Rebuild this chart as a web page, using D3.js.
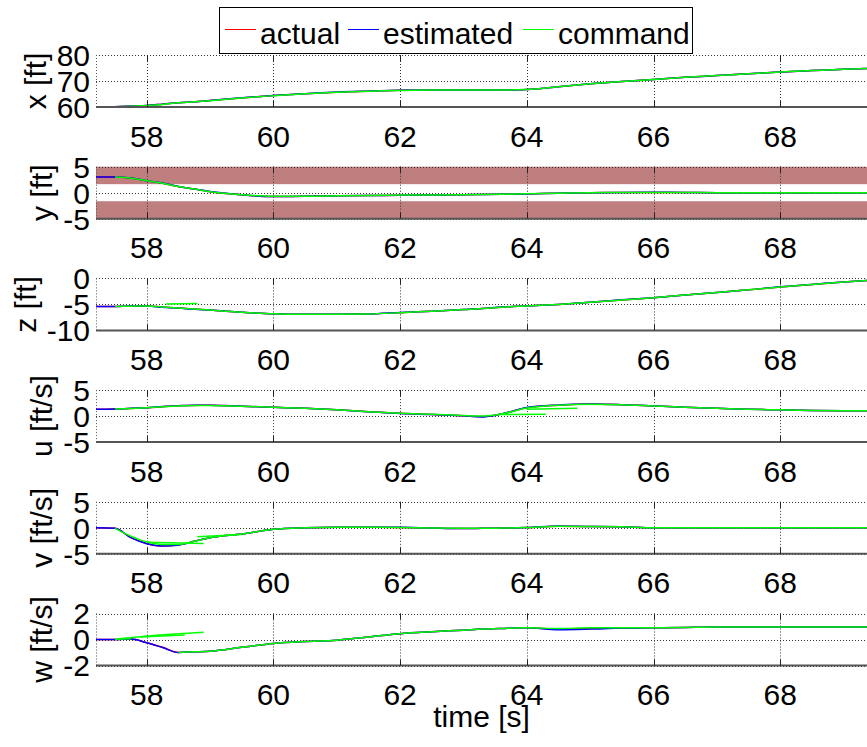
<!DOCTYPE html>
<html>
<head>
<meta charset="utf-8">
<script src="https://d3js.org/d3.v7.min.js"></script>
<style>
  body { margin: 0; background: #fff; }
  svg { display: block; font-family: "Liberation Sans", Arial, sans-serif; }
</style>
</head>
<body>
<script>
  // properties
  var width = 867, height = 747;
  var plotLeft = 96, plotRight = 867;
  var panelTop0 = 55, panelStep = 111.7, panelH = 52;
  var fontSize = 30;

  // data
  var time = [57.2, 57.5, 57.75, 58, 58.25, 58.5, 58.75, 59, 59.5, 60, 60.5, 61, 61.5, 62, 62.5,
              63, 63.3, 63.6, 64, 64.5, 65, 65.5, 66, 66.5, 67, 67.5, 68, 68.5, 69, 69.4];
  var timeTicks = [58, 60, 62, 64, 66, 68];

  var xAct = [60.0, 60.1, 60.3, 60.6, 61.1, 61.6, 62.0, 62.5, 63.5, 64.4, 65.1, 65.7, 66.1, 66.4, 66.5,
              66.5, 66.5, 66.55, 66.7, 67.8, 68.9, 69.8, 70.6, 71.4, 72.1, 72.8, 73.5, 74.0, 74.5, 74.8];
  var xEst = [60.0, 60.1, 60.35, 60.6, 61.1, 61.65, 62.0, 62.5, 63.55, 64.4, 65.1, 65.75, 66.1, 66.4, 66.5,
              66.5, 66.5, 66.55, 66.75, 67.8, 68.9, 69.8, 70.6, 71.4, 72.1, 72.8, 73.5, 74.0, 74.5, 74.8];
  var xCmd = [null, 60.1, 60.3, 60.6, 61.0, 61.6, 62.0, 62.45, 63.5, 64.35, 65.1, 65.7, 66.1, 66.35, 66.5,
              66.5, 66.5, 66.5, 66.7, 67.8, 68.9, 69.8, 70.55, 71.4, 72.1, 72.75, 73.5, 74.0, 74.5, 74.8];
  var xTicks = [60, 70, 80];

  var yAct = [3.0, 3.0, 2.8, 2.3, 1.8, 1.2, 0.7, 0.2, -0.4, -0.75, -0.7, -0.6, -0.55, -0.5, -0.45,
              -0.4, -0.35, -0.3, -0.25, -0.1, 0, 0.05, 0.05, 0.05, 0, 0, 0, 0, 0, 0];
  var yEst = [3.0, 3.0, 2.85, 2.3, 1.85, 1.2, 0.7, 0.25, -0.4, -0.75, -0.7, -0.6, -0.55, -0.5, -0.45,
              -0.4, -0.35, -0.3, -0.25, -0.1, 0, 0.05, 0.1, 0.05, 0, 0, 0, 0, 0, 0];
  var yCmd = [null, 3.0, 2.8, 2.3, 1.8, 1.2, 0.7, 0.2, -0.4, -0.7, -0.7, -0.6, -0.55, -0.45, -0.45,
              -0.4, -0.35, -0.3, -0.2, -0.1, 0, 0.05, 0.05, 0.05, 0, 0, 0, 0, 0, 0];
  var yTicks = [-5, 0, 5];
  var yLimit = 1.64; // band edges

  var zAct = [-5.4, -5.4, -5.35, -5.3, -5.5, -5.7, -5.9, -6.1, -6.5, -6.8, -6.9, -6.9, -6.85, -6.6, -6.3,
              -6.0, -5.8, -5.55, -5.3, -5.0, -4.6, -4.15, -3.7, -3.2, -2.7, -2.2, -1.65, -1.15, -0.7, -0.4];
  var zEst = [-5.4, -5.4, -5.3, -5.3, -5.55, -5.7, -5.95, -6.1, -6.5, -6.8, -6.9, -6.9, -6.85, -6.55, -6.3,
              -6.0, -5.8, -5.5, -5.3, -5.0, -4.6, -4.1, -3.7, -3.2, -2.7, -2.2, -1.6, -1.15, -0.7, -0.4];
  var zCmd = [null, -5.4, -5.35, -5.3, -5.5, -5.7, -5.9, -6.1, -6.5, -6.8, -6.9, -6.9, -6.85, -6.6, -6.3,
              -6.0, -5.8, -5.55, -5.3, -5.0, -4.6, -4.15, -3.7, -3.2, -2.7, -2.2, -1.65, -1.15, -0.7, -0.4];
  var zTicks = [-10, -5, 0];

  var uAct = [1.3, 1.35, 1.45, 1.6, 1.8, 2.0, 2.05, 2.1, 1.9, 1.7, 1.5, 1.2, 0.85, 0.55, 0.3,
              0.05, -0.1, 0.4, 1.6, 2.1, 2.35, 2.2, 1.95, 1.7, 1.5, 1.3, 1.2, 1.1, 1.05, 1.05];
  var uEst = [1.3, 1.35, 1.5, 1.6, 1.85, 2.0, 2.1, 2.1, 1.9, 1.7, 1.5, 1.2, 0.85, 0.5, 0.3,
              0.05, -0.15, 0.4, 1.65, 2.15, 2.35, 2.2, 1.95, 1.7, 1.5, 1.3, 1.2, 1.1, 1.05, 1.05];
  var uCmd = [null, 1.35, 1.45, 1.6, 1.8, 1.95, 2.05, 2.05, 1.9, 1.7, 1.5, 1.2, 0.85, 0.55, 0.35,
              0.1, 0.0, 0.4, 1.55, 2.1, 2.3, 2.2, 1.95, 1.7, 1.5, 1.3, 1.2, 1.1, 1.05, 1.05];
  var uTicks = [-5, 0, 5];

  var vAct = [0, -0.1, -1.9, -3.0, -3.5, -3.3, -2.6, -1.9, -1.2, -0.3, 0, 0.1, 0.1, 0.05, -0.05,
              -0.15, -0.1, -0.05, 0.05, 0.3, 0.25, 0.2, 0, 0, 0, 0, 0, 0, 0, 0];
  var vEst = [0, -0.1, -1.9, -3.05, -3.5, -3.35, -2.6, -1.9, -1.2, -0.3, 0, 0.1, 0.1, 0.1, -0.05,
              -0.15, -0.1, -0.05, 0.05, 0.35, 0.25, 0.2, 0, 0, 0, 0, 0, 0, 0, 0];
  var vCmd = [null, -0.1, -1.6, -2.7, -3.2, -3.2, -2.6, -1.9, -1.2, -0.3, 0, 0.1, 0.1, 0.05, -0.05,
              -0.1, -0.1, -0.05, 0.05, 0.3, 0.25, 0.2, 0, 0, 0, 0, 0, 0, 0, 0];
  var vTicks = [-5, 0, 5];

  var wAct = [0, 0, 0.03, -0.25, -0.6, -1.0, -0.95, -0.9, -0.6, -0.3, -0.15, -0.05, 0.2, 0.45, 0.6,
              0.72, 0.8, 0.85, 0.9, 0.78, 0.85, 0.88, 0.9, 0.93, 0.96, 0.96, 0.96, 0.96, 0.96, 0.96];
  var wEst = [0, 0, 0.03, -0.25, -0.62, -1.0, -0.95, -0.9, -0.6, -0.3, -0.15, -0.05, 0.2, 0.45, 0.6,
              0.72, 0.8, 0.85, 0.9, 0.75, 0.8, 0.88, 0.9, 0.93, 0.96, 0.96, 0.96, 0.96, 0.96, 0.96];
  var wCmd = [null, 0.02, 0.05, null, null, -1.0, -0.95, -0.9, -0.6, -0.3, -0.15, -0.05, 0.2, 0.45, 0.6,
              0.72, 0.8, 0.85, 0.9, 0.85, 0.9, 0.9, 0.9, 0.93, 0.96, 0.96, 0.96, 0.96, 0.96, 0.96];
  var wTicks = [-2, 0, 2];

  // extra command segments (short green pieces off the main curve)
  var zCmdSeg = [[58.3, -4.9], [58.8, -4.85]];
  var uCmdSeg = [[63.55, 0.3], [64.3, 0.35]];
  var uCmdSeg2 = [[64.0, 1.3], [64.8, 1.5]];
  var vCmdSeg = [[58.0, -2.8], [58.9, -3.0]];
  var vCmdSeg2 = [[58.8, -1.7], [59.5, -1.3]];
  var wCmdSeg = [[57.55, 0.05], [58.2, 0.35], [58.9, 0.55]];
  var wCmdSeg2 = [[57.9, 0.2], [58.6, 0.35]];

  var seriesNames = ['actual', 'estimated', 'command'];
  var seriesColors = ['#ff0000', '#0000ff', '#00ff00'];

  var panels = [
    {label: 'x [ft]',   domain: [60, 80],  ticks: xTicks, series: [xAct, xEst, xCmd], segs: []},
    {label: 'y [ft]',   domain: [-5, 5],   ticks: yTicks, series: [yAct, yEst, yCmd], segs: [], band: yLimit},
    {label: 'z [ft]',   domain: [-10, 0],  ticks: zTicks, series: [zAct, zEst, zCmd], segs: [zCmdSeg]},
    {label: 'u [ft/s]', domain: [-5, 5],   ticks: uTicks, series: [uAct, uEst, uCmd], segs: [uCmdSeg, uCmdSeg2]},
    {label: 'v [ft/s]', domain: [-5, 5],   ticks: vTicks, series: [vAct, vEst, vCmd], segs: [vCmdSeg, vCmdSeg2]},
    {label: 'w [ft/s]', domain: [-2, 2],   ticks: wTicks, series: [wAct, wEst, wCmd], segs: [wCmdSeg, wCmdSeg2]}
  ];

  var svg = d3.select('body').append('svg')
    .attr('width', width).attr('height', height);

  var xScale = d3.scaleLinear().domain([57.2, 69.37]).range([plotLeft, plotRight]);

  panels.forEach(function(p, i) {
    var top = panelTop0 + i * panelStep;
    var bottom = top + panelH;
    var yScale = d3.scaleLinear().domain(p.domain).range([bottom, top]);
    var g = svg.append('g');

    // limit bands
    if (p.band) {
      [[p.band, p.domain[1]], [p.domain[0], -p.band]].forEach(function(b) {
        g.append('rect')
          .attr('x', plotLeft).attr('width', plotRight - plotLeft)
          .attr('y', yScale(b[1])).attr('height', yScale(b[0]) - yScale(b[1]))
          .attr('fill', '#bf7f7f');
      });
    }

    // dotted grid
    g.selectAll('.hgrid').data(p.ticks).enter().append('line')
      .attr('x1', plotLeft).attr('x2', plotRight)
      .attr('y1', d => Math.round(yScale(d)) + 0.5).attr('y2', d => Math.round(yScale(d)) + 0.5)
      .attr('stroke', '#333').attr('stroke-dasharray', '1,2');
    g.selectAll('.vgrid').data(timeTicks).enter().append('line')
      .attr('x1', d => Math.round(xScale(d)) + 0.5).attr('x2', d => Math.round(xScale(d)) + 0.5)
      .attr('y1', top).attr('y2', bottom)
      .attr('stroke', '#333').attr('stroke-dasharray', '1,2');
    g.append('line')
      .attr('x1', plotLeft + 0.5).attr('x2', plotLeft + 0.5)
      .attr('y1', top).attr('y2', bottom)
      .attr('stroke', '#555').attr('stroke-dasharray', '1,2');

    // curves
    var line = d3.line()
      .defined(d => d[1] != null)
      .x(d => xScale(d[0]))
      .y(d => yScale(d[1]))
      .curve(d3.curveMonotoneX);
    p.series.forEach(function(vals, k) {
      var pts = time.map((t, j) => [t, vals[j]]);
      g.append('path')
        .attr('d', line(pts))
        .attr('fill', 'none')
        .attr('stroke', seriesColors[k])
        .attr('stroke-width', 1.5);
    });
    p.segs.forEach(function(seg) {
      g.append('path')
        .attr('d', d3.line().x(d => xScale(d[0])).y(d => yScale(d[1]))(seg))
        .attr('fill', 'none')
        .attr('stroke', '#00ff00')
        .attr('stroke-width', 1.5);
    });

    // bottom axis line + ticks
    g.append('line')
      .attr('x1', plotLeft).attr('x2', plotRight)
      .attr('y1', bottom).attr('y2', bottom)
      .attr('stroke', '#555').attr('stroke-width', 2);
    g.selectAll('.tickb').data(timeTicks).enter().append('line')
      .attr('x1', d => Math.round(xScale(d)) + 0.5).attr('x2', d => Math.round(xScale(d)) + 0.5)
      .attr('y1', bottom).attr('y2', bottom - 6)
      .attr('stroke', '#222');
    g.selectAll('.tickt').data(timeTicks).enter().append('line')
      .attr('x1', d => Math.round(xScale(d)) + 0.5).attr('x2', d => Math.round(xScale(d)) + 0.5)
      .attr('y1', top).attr('y2', top + 6)
      .attr('stroke', '#222');

    // tick labels
    g.selectAll('.xlab').data(timeTicks).enter().append('text')
      .attr('x', d => xScale(d)).attr('y', bottom + 39.5)
      .attr('text-anchor', 'middle')
      .attr('font-size', fontSize)
      .text(d => d);
    var ylabs = g.selectAll('.ylab').data(p.ticks).enter().append('text')
      .attr('x', 90).attr('y', d => yScale(d))
      .attr('dy', '0.36em')
      .attr('text-anchor', 'end')
      .attr('font-size', fontSize)
      .text(d => d);

    var tickLeft = d3.min(ylabs.nodes(), n => n.getBBox().x);
    g.append('text')
      .attr('transform', 'translate(' + [tickLeft - 11, (top + bottom) / 2] + ') rotate(-90)')
      .attr('text-anchor', 'middle')
      .attr('font-size', fontSize)
      .text(p.label);
  });

  // x axis title
  svg.append('text')
    .attr('x', (plotLeft + plotRight) / 2).attr('y', 727)
    .attr('text-anchor', 'middle')
    .attr('font-size', fontSize)
    .text('time [s]');

  // legend
  var legend = svg.append('g');
  legend.append('rect')
    .attr('x', 219.5).attr('y', 7.5).attr('width', 473).attr('height', 46)
    .attr('fill', '#fff').attr('stroke', '#000');
  var legX = [225, 348, 523];
  seriesNames.forEach(function(name, k) {
    legend.append('line')
      .attr('x1', legX[k]).attr('x2', legX[k] + 31)
      .attr('y1', 29.5).attr('y2', 29.5)
      .attr('stroke', seriesColors[k]);
    legend.append('text')
      .attr('x', legX[k] + 35).attr('y', 44)
      .attr('font-size', fontSize)
      .text(name);
  });
</script>
</body>
</html>
